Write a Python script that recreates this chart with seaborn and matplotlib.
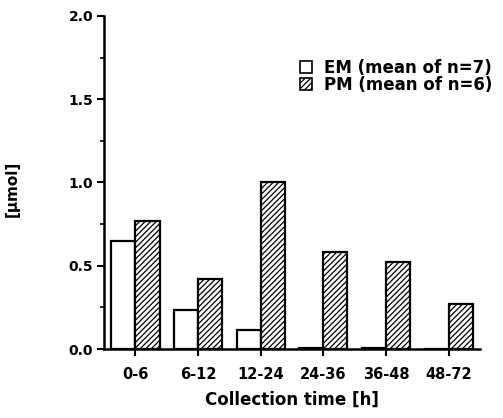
import pandas as pd
import numpy as np
import matplotlib
matplotlib.use("Agg")
import matplotlib.pyplot as plt
import seaborn as sns
from matplotlib.patches import Patch

times = ["0-6", "6-12", "12-24", "24-36", "36-48", "48-72"]
em_values = [0.65, 0.235, 0.115, 0.004, 0.004, 0.0]
pm_values = [0.77, 0.42, 1.0, 0.58, 0.52, 0.27]
groups = ["EM (mean of n=7)", "PM (mean of n=6)"]

df = pd.DataFrame({
    "time": times * 2,
    "value": em_values + pm_values,
    "group": [groups[0]] * len(times) + [groups[1]] * len(times),
})

sns.set_style("ticks", {"axes.edgecolor": "black", "text.color": "black",
                        "axes.labelcolor": "black", "xtick.color": "black",
                        "ytick.color": "black"})
plt.rcParams["font.family"] = ["DejaVu Sans"]
plt.rcParams["font.weight"] = "bold"
plt.rcParams["hatch.linewidth"] = 0.9

fig = plt.figure(figsize=(5.03, 4.18), dpi=100)
ax = fig.add_axes([0.207, 0.165, 0.747, 0.797])

sns.barplot(data=df, x="time", y="value", hue="group", order=times,
            hue_order=groups, palette=["white", "white"], width=0.77,
            edgecolor="black", linewidth=1.6, saturation=1, ax=ax, legend=False)

# hatch the PM bars
for bar in ax.containers[1]:
    bar.set_hatch("//////")
    bar.set_edgecolor("black")

ax.set_xlim(-0.5, 5.5)
ax.set_ylim(0, 2.0)
ax.set_yticks([0, 0.5, 1.0, 1.5, 2.0])
ax.set_yticklabels(["0.0", "0.5", "1.0", "1.5", "2.0"])
ax.set_yticks([0.25, 0.75, 1.25, 1.75], minor=True)
ax.tick_params(axis="y", labelsize=10, width=1.5, length=5, pad=3)
ax.tick_params(axis="y", which="minor", width=1.2, length=3)
ax.tick_params(axis="x", labelsize=10.5, width=1.5, length=5, pad=8)
for lbl in ax.get_xticklabels() + ax.get_yticklabels():
    lbl.set_fontweight("bold")

sns.despine(ax=ax)
for side in ["left", "bottom"]:
    ax.spines[side].set_linewidth(1.8)

ax.set_xlabel("Collection time [h]", fontsize=12, fontweight="bold")
ax.xaxis.set_label_coords(0.5, -0.125)
ax.set_ylabel("[\u00b5mol]", fontsize=11, fontweight="bold")
ax.yaxis.set_label_coords(-0.225, 0.48)

handles = [Patch(facecolor="white", edgecolor="black", linewidth=1.2),
           Patch(facecolor="white", edgecolor="black", linewidth=1.2, hatch="//////")]
ax.legend(handles, groups, loc="upper left", bbox_to_anchor=(0.5, 0.895),
          frameon=False, handlelength=0.72, handleheight=0.72, borderpad=0,
          handletextpad=0.7, labelspacing=-0.1, prop={"weight": "bold", "size": 12})

fig.savefig("out.png", dpi=100)
